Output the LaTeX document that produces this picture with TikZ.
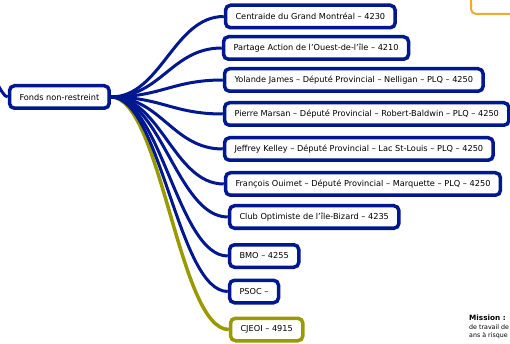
\documentclass[tikz,border=0pt]{standalone}
\usepackage{fontspec}
\setmainfont{DejaVu Sans}
\definecolor{mapblue}{RGB}{0,24,143}
\definecolor{mapolive}{RGB}{153,153,0}
\definecolor{maporange}{RGB}{238,170,50}

\begin{document}
\begin{tikzpicture}[x=1pt, y=-1pt,
		topic/.style={draw=mapblue, line width=3.5pt, rounded corners=5pt, fill=white,
			font=\fontsize{8.2}{10}\selectfont, minimum height=22.5pt, inner xsep=10pt, anchor=west},
		oltopic/.style={topic, draw=mapolive},
		branch/.style={draw=mapblue, line width=3pt},
		olbranch/.style={draw=mapolive, line width=3.5pt}]
		\useasboundingbox (0,0) rectangle (510,344);
		\clip (0,0) rectangle (510,344);
		\coordinate (parent) at (-80,-20);
		\node (notebox) [draw=maporange, line width=2pt, rounded corners=5pt,
			minimum width=80pt, minimum height=40pt, anchor=south west] at (470,15) {};
		\node (mission) [anchor=north west, align=left, inner sep=0pt,
			font=\fontsize{6.3}{8.5}\selectfont] at (469,315)
			{{\fontsize{7.3}{8.5}\selectfont\textbf{Mission :}}\\de travail de\\ans à risque};

		\node (fonds) [topic] at (7.75,97) {Fonds non-restreint};
		\node (centraide) [topic] at (223.75,16.5) {Centraide du Grand Montréal – 4230};
		\node (partage) [topic] at (221.75,48) {Partage Action de l'Ouest-de-l'île – 4210};
		\node (yolande) [topic] at (222.75,80) {Yolande James – Député Provincial – Nelligan – PLQ – 4250};
		\node (pierre) [topic] at (222.75,114) {Pierre Marsan – Député Provincial – Robert-Baldwin – PLQ – 4250};
		\node (jeffrey) [topic] at (222.75,149) {Jeffrey Kelley – Député Provincial – Lac St-Louis – PLQ – 4250};
		\node (francois) [topic] at (223.75,184) {François Ouimet – Député Provincial – Marquette – PLQ – 4250};
		\node (club) [topic] at (227.75,217) {Club Optimiste de l'île-Bizard – 4235};
		\node (bmo) [topic] at (227.75,256) {BMO – 4255};
		\node (psoc) [topic] at (227.75,291.5) {PSOC –};
		\node (cjeoi) [oltopic] at (228.75,329.5) {CJEOI – 4915};

		\draw [branch] (parent) .. controls +(40,0) and +(-12,0) .. (fonds.west);
		\draw [olbranch] (fonds.east) .. controls +(50,0) and +(-50,0) .. (cjeoi.west);
		\foreach \leaf in {centraide, partage, yolande, pierre, jeffrey, francois, club, bmo, psoc}
			\draw [branch] (fonds.east) .. controls +(50,0) and +(-50,0) .. (\leaf.west);
\end{tikzpicture}
\end{document}
